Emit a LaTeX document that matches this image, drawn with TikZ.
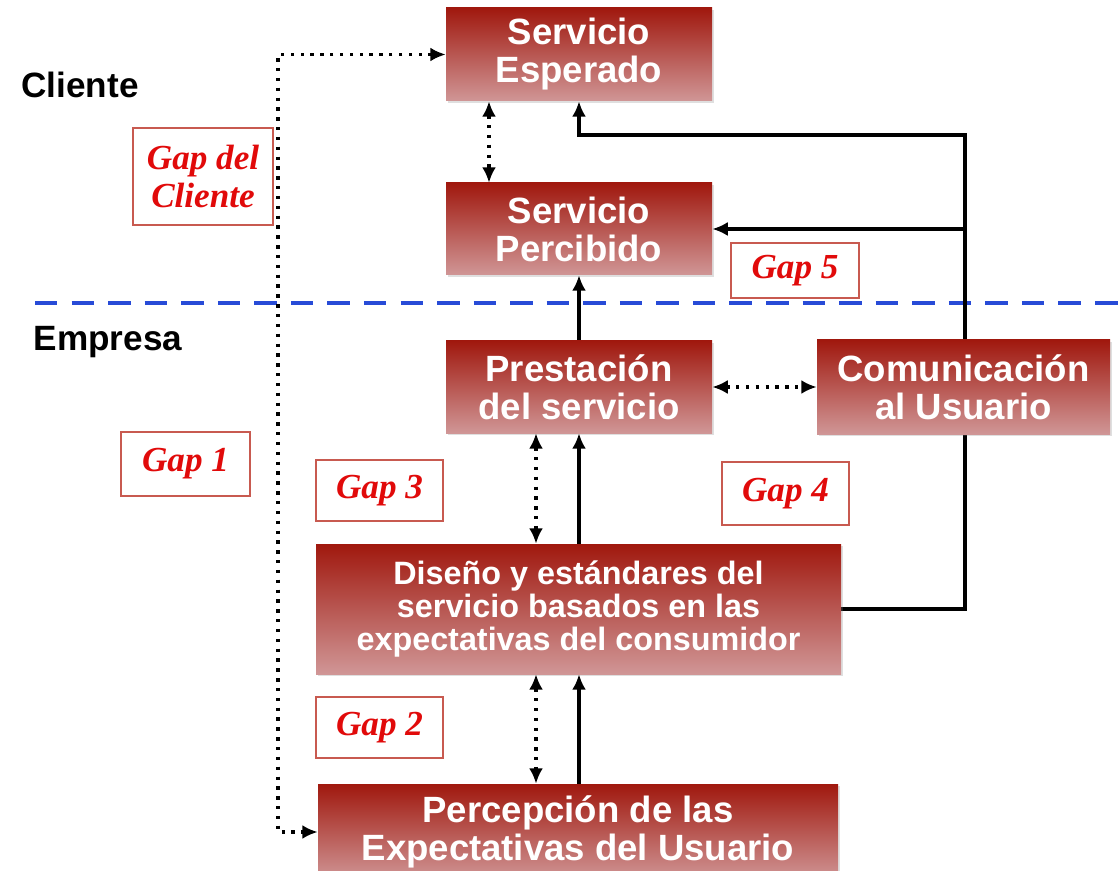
\documentclass[tikz,border=0pt]{standalone}
\usepackage{fontspec}
\setmainfont{Liberation Sans}
\newfontfamily\gapfont{Liberation Serif}
\usetikzlibrary{arrows.meta,shadows,backgrounds}
\definecolor{boxtop}{RGB}{160,24,14}
\definecolor{boxbot}{RGB}{208,150,150}
\definecolor{gapred}{RGB}{225,10,10}
\definecolor{gapline}{RGB}{200,90,80}
\definecolor{splitblue}{RGB}{40,75,215}
\begin{document}
\begin{tikzpicture}[
    stage/.style={shading=axis, top color=boxtop, bottom color=boxbot, text=white,
      align=center, inner sep=0pt, font=\bfseries\fontsize{26}{27}\selectfont,
      drop shadow={shadow xshift=1.5pt, shadow yshift=-1.5pt, opacity=0.25}},
    gapbox/.style={draw=gapline, line width=1.2pt, fill=white, text=gapred,
      align=center, inner sep=0pt, font=\gapfont\bfseries\itshape\fontsize{25}{27}\selectfont},
    side/.style={font=\bfseries\fontsize{25}{28}\selectfont},
    flow/.style={line width=2.8pt, -{Latex[length=11pt,width=10pt]}},
    link/.style={line width=2.8pt, dash pattern=on 2.4pt off 4.6pt,
      {Latex[length=11pt,width=10pt]}-{Latex[length=11pt,width=10pt]}},
  ]
  \useasboundingbox (0,0) rectangle (28,-21.775);

  \node[stage, minimum width=6.65cm, minimum height=2.325cm] (esperado) at (14.475,-1.3625) {Servicio\\Esperado};
  \node[stage, minimum width=6.65cm, minimum height=2.3cm] (percibido) at (14.475,-5.725) {Servicio\\Percibido};
  \node[stage, minimum width=6.65cm, minimum height=2.3cm] (prestacion) at (14.475,-9.675) {Prestación\\del servicio};
  \node[stage, minimum width=7.325cm, minimum height=2.35cm] (comunicacion) at (24.0875,-9.675) {Comunicación\\al Usuario};
  \node[stage, minimum width=13.125cm, minimum height=3.25cm, font=\bfseries\fontsize{23}{23.5}\selectfont] (diseno) at (14.4625,-15.225)
    {Diseño y estándares del\\servicio basados en las\\expectativas del consumidor};
  \node[stage, minimum width=13cm, minimum height=2.4cm] (percepcion) at (14.45,-20.8) {Percepción de las\\Expectativas del Usuario};

  \node[gapbox, minimum width=3.5cm, minimum height=2.425cm] (gapC) at (5.075,-4.4125) {Gap del\\Cliente};
  \node[gapbox, minimum width=3.2cm, minimum height=1.375cm] (gap5) at (19.875,-6.7625) {Gap 5};
  \node[gapbox, minimum width=3.225cm, minimum height=1.6cm] (gap1) at (4.6375,-11.6) {Gap 1};
  \node[gapbox, minimum width=3.175cm, minimum height=1.525cm] (gap3) at (9.4875,-12.2625) {Gap 3};
  \node[gapbox, minimum width=3.175cm, minimum height=1.575cm] (gap4) at (19.6375,-12.3375) {Gap 4};
  \node[gapbox, minimum width=3.175cm, minimum height=1.525cm] (gap2) at (9.4875,-18.1875) {Gap 2};

  \node[side] (cliente) at (2.0,-2.125) {Cliente};
  \node[side] (empresa) at (2.7,-8.55) {Empresa};

  \coordinate (dotL) at (6.95,-10);
  \coordinate (loopT) at (24.125,-3.375);
  \coordinate (splitW) at (0.875,-7.575);
  \coordinate (splitE) at (28,-7.575);

  \begin{pgfonlayer}{background}
    \draw[splitblue, line width=3pt, dash pattern=on 16pt off 10pt] (splitW) -- (splitE);
    \draw[link] (esperado.west) -| (dotL) |- (percepcion.west);
    \draw[link] ([xshift=-2.25cm]esperado.south) -- ([xshift=-2.25cm]esperado.south |- percibido.north);
    \draw[link] (prestacion.east) -- (comunicacion.west);
    \draw[link] ([xshift=-1.075cm]prestacion.south) -- ([xshift=-1.075cm]prestacion.south |- diseno.north);
    \draw[link] ([xshift=-1.075cm]prestacion.south |- diseno.south) -- ([xshift=-1.075cm]prestacion.south |- percepcion.north);
    \draw[flow] (prestacion.north) -- (percibido.south);
    \draw[flow] (prestacion.south |- diseno.north) -- (prestacion.south);
    \draw[flow] (prestacion.south |- percepcion.north) -- (prestacion.south |- diseno.south);
    \draw[flow] (diseno.east) -| (loopT) -| (esperado.south);
    \draw[flow] (loopT |- percibido.east) -- (percibido.east);
  \end{pgfonlayer}
\end{tikzpicture}
\end{document}
